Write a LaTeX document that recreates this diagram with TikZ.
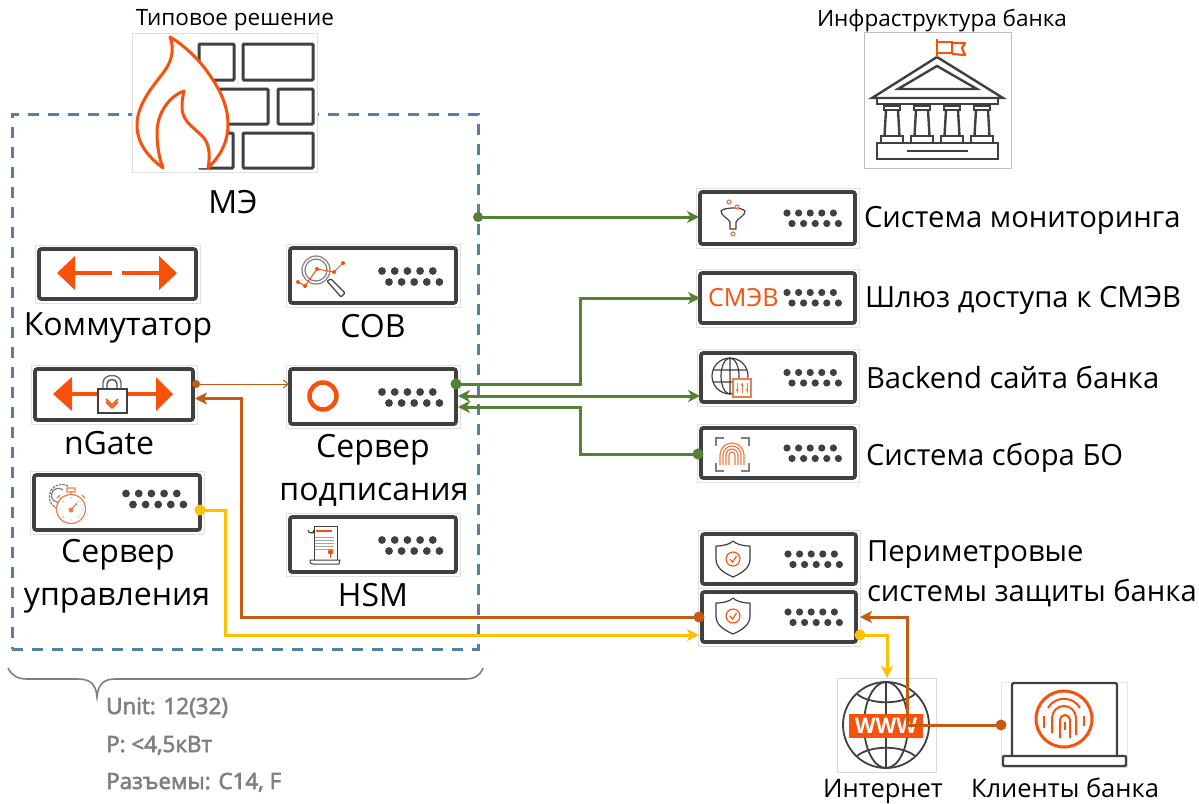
\documentclass[tikz,border=0pt]{standalone}
\usepackage{fontspec}
\setmainfont{Open Sans}
\newfontfamily\specfont[FakeBold=2.5]{Open Sans}
\usetikzlibrary{arrows.meta,calc}
\definecolor{ink}{HTML}{404040}
\definecolor{flame}{HTML}{F9500C}
\definecolor{flame2}{HTML}{ED7D4A}
\definecolor{frameblue}{HTML}{41719C}
\definecolor{gr}{HTML}{548235}
\definecolor{br}{HTML}{C55A11}
\definecolor{ye}{HTML}{FFC000}
\definecolor{gy}{HTML}{7F7F7F}
\tikzset{
  srvbox/.style={draw=ink,line width=3.8pt,rounded corners=2.5pt,fill=white,inner sep=0,outer sep=0},
  imgbox/.style={draw=black!12,line width=.7pt,fill=white},
  lbl/.style={font=\fontsize{32}{38}\selectfont,text=black,inner sep=0,outer sep=0,anchor=base},
  lbll/.style={font=\fontsize{29.2}{35}\selectfont,text=black,inner sep=0,outer sep=0,anchor=base west},
  lblb/.style={font=\fontsize{25.5}{30}\selectfont,text=black,inner sep=0,outer sep=0,anchor=base},
  ttl/.style={font=\fontsize{22.5}{26}\selectfont,text=black,inner sep=0,anchor=base},
  spec/.style={font=\specfont\fontsize{22.4}{26}\selectfont,text=gy,anchor=base west,inner sep=0},
  icon/.style={draw=ink,line width=1.2pt},
  oic/.style={draw=flame2,line width=1.2pt},
  ar/.style={fill=flame,draw=none},
  arl/.style={draw=flame,line width=4.5pt},
  dotn/.style={circle,inner sep=0,outer sep=0,minimum size=#1},
  gline/.style={draw=gr,line width=3pt},
  bline/.style={draw=br,line width=3pt},
  yline/.style={draw=ye,line width=3pt},
  gtip/.style={-{Stealth[inset=3.5pt,length=12pt,width=12pt]}},
  btip/.style={-{Stealth[inset=3pt,length=12pt,width=12pt]}},
}
\newcommand{\srv}[5]{%
  \fill[imgbox] (#2-4,#3-4) rectangle (#4+4,#5+4);
  \node[srvbox,minimum width={(#4-#2)*1pt},minimum height={(#5-#3)*1pt}] (#1) at ({(#2+#4)/2},{(#3+#5)/2}) {};}
\newcommand{\dotsA}[2]{% right edge, box centre y (wide servers)
  \foreach \i in {0,...,4}{
    \fill[ink] ({#1-74+\i*12.7},#2-4.5) circle (3.9);
    \fill[ink] ({#1-67+\i*12.6},#2+6.5) circle (3.9);}}
\newcommand{\dotsB}[2]{% right edge, box centre y (narrow servers)
  \foreach \i in {0,...,4}{
    \fill[ink] ({#1-68+\i*11.6},#2-5) circle (3.6);
    \fill[ink] ({#1-63+\i*11.6},#2+5.5) circle (3.6);}}
\newcommand{\shieldicon}[1]{% top y
  \draw[icon,line join=round] (716,#1+5) .. controls (724,#1+5) and (730,#1+3) .. (733,#1) .. controls (736,#1+3) and (742,#1+5) .. (750,#1+5)
    -- (750,#1+18) .. controls (750,#1+27) and (742,#1+32) .. (733,#1+36) .. controls (724,#1+32) and (716,#1+27) .. (716,#1+18) -- cycle;
  \draw[draw=flame,line width=1.1pt] (733,#1+18) circle (7);
  \draw[draw=flame,line width=1.1pt] (730,#1+18) -- (732.5,#1+21) -- (736.5,#1+15);}
\begin{document}
\begin{tikzpicture}[x=1pt,y=-1pt,line cap=butt]
\useasboundingbox (0,0) rectangle (1199,803);
\fill[white] (0,0) rectangle (1199,803);

% dashed frame
\node[draw=frameblue!90!white,line width=3pt,dash pattern=on 11pt off 9pt,minimum width=466pt,minimum height=535pt,inner sep=0,outer sep=0] (frame) at (245,381.5) {};

% firewall
\fill[imgbox] (132,33) rectangle (317,172);
\node[inner sep=0,minimum width=185pt,minimum height=139pt] (fw) at (224.5,102.5) {};
\begin{scope}[draw=ink,line width=3pt,rounded corners=1pt]
  \draw (199,44) rectangle (234,80);
  \draw (243,44) rectangle (313,80);
  \draw (199,89) rectangle (268,124);
  \draw (278,89) rectangle (313,124);
  \draw (199,133) rectangle (233,168);
  \draw (243,133) rectangle (313,168);
\end{scope}
\fill[white]
  (170,37) .. controls (176,40) and (192,52) .. (203,66)
  .. controls (217,84) and (228,103) .. (228,124)
  .. controls (228,145) and (218,158) .. (208,168)
  -- (163,168)
  .. controls (150,158) and (137,145) .. (137,125)
  .. controls (137,108) and (148,92) .. (160,77)
  .. controls (169,66) and (176,54) .. (170,37) -- cycle;
\draw[draw=flame,line width=3pt,line join=round]
  (170,37) .. controls (176,40) and (192,52) .. (203,66)
  .. controls (217,84) and (228,103) .. (228,124)
  .. controls (228,145) and (218,158) .. (208,168)
  .. controls (211,152) and (208,142) .. (203,137)
  .. controls (194,127) and (182,122) .. (182,107)
  .. controls (182,100) and (183,96) .. (184,91)
  .. controls (170,96) and (157,112) .. (157,133)
  .. controls (157,148) and (160,160) .. (163,168)
  .. controls (150,158) and (137,145) .. (137,125)
  .. controls (137,108) and (148,92) .. (160,77)
  .. controls (169,66) and (176,54) .. (170,37) -- cycle;

% bank
\node[draw=black!25,line width=.8pt,fill=white,minimum width=147pt,minimum height=136pt,inner sep=0] (bank) at (937.5,100) {};
\begin{scope}[draw=ink,line width=2.4pt,line join=miter]
  \draw (872,98) -- (937,57) -- (1003,98) -- cycle;
  \draw (898,89) -- (937,66) -- (977,89) -- cycle;
  \draw (877,98) rectangle (998,104);
  \draw (877,143) rectangle (998,159);
  \draw (907,151) -- (968,151);
  \foreach \c in {892,922,952,982}{
    \draw (\c-8,106) rectangle (\c+8,110);
    \draw (\c-6,110) -- (\c-7.5,136) (\c+6,110) -- (\c+7.5,136);
    \draw (\c-11,136) rectangle (\c+11,143);
  }
\end{scope}
\draw[draw=flame,line width=2.2pt] (937,57) -- (937,39) (937,42) rectangle (952,53);
\draw[draw=flame,line width=2.2pt,line join=round] (952,43) -- (965,43) -- (962,48) -- (965,55) -- (952,54);

% servers left
\srv{sw}{39}{249}{196}{299}
\fill[ar] (57,273) -- (75,256) -- (75,290) -- cycle;
\draw[arl] (72,273) -- (112,273) (122,273) -- (162,273);
\fill[ar] (177,273) -- (159,256) -- (159,290) -- cycle;

\srv{cob}{290}{248}{456}{303}
\dotsA{456}{275.5}
\draw[draw=gy,line width=1.2pt] (316,270) circle (14) (316,270) circle (11);
\draw[icon,fill=white,rounded corners=1pt] (327,281) -- (331,279) -- (345,293) -- (341,297) -- cycle;
\draw[draw=flame,line width=1pt] (298,282) -- (305,286) -- (317,269) -- (334,272) -- (343,263);
\foreach \p in {(298,282),(305,286),(317,269),(334,272),(343,263)} \fill[flame] \p circle (2);

\srv{ngate}{35}{369}{193}{420}
\fill[ar] (53,394) -- (72,377) -- (72,411) -- cycle;
\draw[arl] (70,394) -- (98,394) (127,394) -- (157,394);
\fill[ar] (173,394) -- (156,377) -- (156,411) -- cycle;
\draw[draw=gy!80!black,line width=1.4pt] (103,389) -- (103,383) .. controls (103,373) and (121,373) .. (121,383) -- (121,389);
\draw[draw=gy!60!black,line width=1.4pt] (107,389) -- (107,384) .. controls (107,378) and (117,378) .. (117,384) -- (117,389);
\draw[icon,fill=white] (98,389) rectangle (127,413);
\draw[draw=flame,line width=1.5pt,line join=round] (106,399) -- (112,405) -- (118,399) (106,402) -- (112,408) -- (118,402);

\srv{sign}{290}{369}{456}{424}
\dotsA{456}{396.5}
\draw[draw=flame,line width=4.5pt] (323,396) circle (13.5);

\srv{mgmt}{34}{475}{200}{530}
\dotsA{200}{498}
\draw[draw=gy,line width=1.3pt,dash pattern=on 2.5pt off 1pt] (68,486) arc (-60:-290:12.5);
\draw[draw=gy,line width=1.2pt] (63,490) arc (-50:-290:7);
\draw[oic,fill=white] (71,509) circle (14.5);
\draw[oic] (67,488) rectangle (75,492) (71,492) -- (71,495) (82,495) -- (85,498) (60,495) -- (57,498);
\draw[oic] (71,510) -- (77,503);
\fill[flame2] (71,510) circle (2.5);
\foreach \a in {0,45,90,135,180,225,270,315} \fill[flame2] ($(71,509)+(\a:11)$) circle (.7);

\srv{hsm}{290}{517}{456}{572}
\dotsA{456}{544.5}
\draw[icon,fill=white,line width=1pt] (314,526) -- (337,526) -- (337,562) -- (314,562) -- cycle;
\draw[icon,line width=1pt] (308,530) arc (180:0:3) (308,530) .. controls (308,533) and (312,533) .. (314,533);
\draw[icon,fill=white,line width=1pt] (310,560) -- (340,560) -- (339,564) -- (313,564) .. controls (310,564) and (309,561) .. (310,560) -- cycle;
\draw[draw=flame,line width=1.2pt] (316,531) -- (332,531);
\draw[draw=gy!70!white,line width=.8pt] \foreach \y in {537,540,543,546,549} {(315,\y) -- (334,\y)};
\fill[flame] (330.5,552) circle (2.7);
\draw[draw=flame,line width=1.2pt] (330.5,552) -- (330.5,558);

% servers right
\srv{mon}{700}{192}{855}{244}
\dotsB{855}{218}
\draw[icon,line join=round] (721,211) .. controls (724,207) and (742,207) .. (745,211) .. controls (745,216) and (738,218) .. (736,222) -- (736,229) -- (730,229) -- (730,222) .. controls (728,218) and (721,216) .. (721,211) -- cycle;
\draw[oic] (729,202) circle (2) (737,207) circle (2) (733,234) circle (2);

\srv{smev}{700}{273}{855}{323}
\dotsB{855}{297.5}
\node[font=\fontsize{25}{28}\selectfont,text=flame,inner sep=0,anchor=base west] (smevt) at (708,306) {СМЭВ};

\srv{back}{701}{353}{855}{402}
\dotsB{855}{377.5}
\draw[icon] (730,376) circle (18);
\draw[icon] (730,376) ellipse (9 and 18) (730,358) -- (730,394) (713,370) -- (747,370) (713,382) -- (747,382);
\draw[draw=flame2,line width=1.3pt,fill=white] (733,379) rectangle (751,397);
\draw[draw=flame2,line width=1pt] (737,383) -- (737,393) (742,383) -- (742,393) (747,383) -- (747,393);
\fill[flame2] (737,390) circle (1.5) (742,385) circle (1.5) (747,390) circle (1.5);

\srv{bo}{701}{428}{855}{478}
\dotsB{855}{453}
\draw[draw=gy,line width=1.1pt] (716,446) -- (716,438) -- (724,438) (741,438) -- (749,438) -- (749,446) (716,463) -- (716,471) -- (724,471) (741,471) -- (749,471) -- (749,463);
\begin{scope}[draw=flame2,line width=1.2pt]
  \foreach \r in {3,6,9,12} \draw (732-\r,465) -- (732-\r,455) arc (180:360:\r) -- (732+\r,465);
\end{scope}

\srv{per1}{702}{534}{856}{584}
\dotsB{856}{559}
\shieldicon{541}
\srv{per2}{702}{592}{856}{642}
\dotsB{856}{617}
\shieldicon{598}

% internet
\node[draw=black!15,line width=.8pt,fill=white,minimum width=99pt,minimum height=94pt,inner sep=0] (net) at (886.5,725) {};
\begin{scope}[draw=ink,line width=1.8pt]
  \draw (886,725) circle (43);
  \draw (886,725) ellipse (22 and 43);
  \draw (886,682) -- (886,768);
  \draw (857,694) .. controls (870,705) and (902,705) .. (915,694);
  \draw (857,756) .. controls (870,745) and (902,745) .. (915,756);
\end{scope}
\fill[flame] (849,714) rectangle (923,738);
\node[font=\fontsize{21.5}{24}\bfseries\selectfont,text=white,inner sep=0,anchor=base] (www) at (886,733) {WWW};

% laptop
\node[draw=black!10,line width=.7pt,fill=white,minimum width=126pt,minimum height=85pt,inner sep=0] (lap) at (1064,724.5) {};
\draw[draw=ink,line width=2.2pt,rounded corners=1.5pt] (1012,755) -- (1012,683) -- (1117,683) -- (1117,755);
\draw[draw=ink,line width=2.2pt,rounded corners=1pt] (1003,756) rectangle (1126,766);
\draw[draw=flame,line width=3pt] (1064,719) circle (28);
\begin{scope}[draw=flame,line width=2pt]
  \draw (1048,708) arc (-150:-30:18.5);
  \draw (1044,716) -- (1044,728);
  \draw (1052,733) -- (1052,718) arc (180:360:12) -- (1076,735);
  \draw (1060,738) -- (1060,720) arc (180:360:5) -- (1070,738);
  \draw (1065,722) -- (1065,730) (1084,716) -- (1084,726);
\end{scope}

% labels
\node[ttl] (t1) at (235,25) {Типовое решение};
\node[ttl] (t2) at (942,26) {Инфраструктура банка};
\node[lbl] (l1) at (233,213) {МЭ};
\node[lbl] (l2) at (118,335) {Коммутатор};
\node[lbl] (l3) at (373,337) {СОВ};
\node[lbl] (l4) at (109,454) {nGate};
\node[lbl] (l5) at (373,457) {Сервер};
\node[lbl] (l6) at (374,500) {подписания};
\node[lbl] (l7) at (118,562) {Сервер};
\node[lbl] (l8) at (117,605) {управления};
\node[lbl] (l9) at (373,606) {HSM};
\node[lbll] (r1) at (864,227) {Система мониторинга};
\node[lbll] (r2) at (865,307) {Шлюз доступа к СМЭВ};
\node[lbll] (r3) at (866,388) {Backend сайта банка};
\node[lbll] (r4) at (866,465) {Система сбора БО};
\node[lbll] (r5) at (867,561) {Периметровые};
\node[lbll] (r6) at (867,601) {системы защиты банка};
\node[lblb] (b1) at (883,797) {Интернет};
\node[lblb] (b2) at (1065,797) {Клиенты банка};
\node[spec] (s1) at (106,714) {Unit: 12(32)};
\node[spec] (s2) at (106,752) {P: <4,5кВт};
\node[spec] (s3) at (106,789) {Разъемы: C14, F};

% brace
\node[inner sep=0,minimum size=0pt] (tip) at (97,697) {};
\draw[draw=gy,line width=1.6pt] (8,668) .. controls (12,676) and (18,679) .. (27,679) -- (78,679) .. controls (90,679) and (96,684) .. (tip.center) .. controls (98,684) and (104,679) .. (115,679) -- (465,679) .. controls (474,679) and (480,676) .. (483,668);

% connector end points
\node[dotn=10pt,fill=gr] (dm) at (478,217) {};
\node[dotn=11pt,fill=gr] (ds) at (456,384) {};
\node[dotn=11pt,fill=gr] (db) at (698,454) {};
\coordinate (sa) at (458,396);
\coordinate (sb) at (458,407);
\coordinate (ba) at (700,396);
\node[dotn=8pt,fill=br] (dn) at (196,384) {};
\coordinate (si) at (289,384);
\coordinate (ni) at (195,398.5);
\node[dotn=11pt,fill=br] (dp) at (699,617) {};
\node[dotn=11pt,fill=ye] (dy) at (200,510) {};
\coordinate (pi) at (699,635);
\node[dotn=11pt,fill=ye] (dq) at (860,635) {};
\coordinate (neti) at (887,678);
\node[dotn=11pt,fill=br] (dl) at (1001,725) {};
\coordinate (pr) at (860,617);
\coordinate (mi) at (699,217);

\draw[gline,gtip] (dm.center) -- (mi);
\draw[gline,gtip] (ds.center) -- ++(124,0) |- (smev.west);
\draw[gline,{Stealth[inset=3.5pt,length=12pt,width=12pt]}-{Stealth[inset=3.5pt,length=12pt,width=12pt]}] (sa) -- (ba);
\draw[gline,gtip] (db.center) -- ++(-118,0) |- (sb);
\draw[draw=br,line width=.9pt,-{Straight Barb[length=5pt,width=8pt]}] (dn.center) -- (si);
\draw[bline,btip] (dp.center) -- ++(-458,0) |- (ni);
\draw[yline,btip] (dy.center) -- ++(25,0) |- (pi);
\draw[yline,btip] (dq.center) -| (neti);
\draw[bline,btip] (dl.center) -- ++(-94,0) |- (pr);
\end{tikzpicture}
\end{document}
